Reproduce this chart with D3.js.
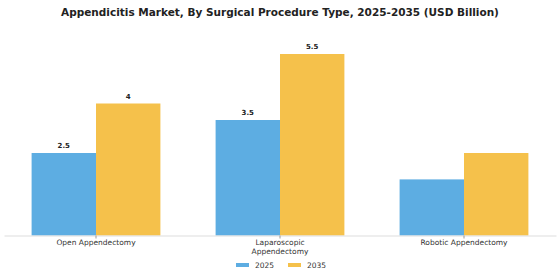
<!DOCTYPE html>
<html><head><meta charset="utf-8">
<script src="https://cdn.jsdelivr.net/npm/d3@7"></script>
<style>body{margin:0;background:#fff}svg{display:block}</style>
</head><body><svg id="c" width="560" height="280"></svg>
<script>
const categories = ["Open Appendectomy", "Laparoscopic Appendectomy", "Robotic Appendectomy"];
const categoryLines = [["Open Appendectomy"], ["Laparoscopic", "Appendectomy"], ["Robotic Appendectomy"]];
const seriesNames = ["2025", "2035"];
const values2025 = [2.5, 3.5, 1.7];
const values2035 = [4.0, 5.5, 2.5];
const labels2025 = ["2.5", "3.5", ""];
const labels2035 = ["4", "5.5", ""];
const colors = ["#5DADE2", "#F5C14B"];
const title = "Appendicitis Market, By Surgical Procedure Type, 2025-2035 (USD Billion)";

const svg = d3.select("#c");
const font = "DejaVu Sans, sans-serif";
const baseY = 235.5;
const x0 = d3.scaleBand().domain(categories).range([4, 556]).paddingInner(0.3).paddingOuter(0.15);
const x1 = d3.scaleBand().domain(seriesNames).range([0, x0.bandwidth()]);
const y = d3.scaleLinear().domain([0, 5.5]).range([baseY, 54]);

svg.append("text").attr("x", 280).attr("y", 16).attr("text-anchor", "middle")
  .attr("font-family", font).attr("font-weight", "bold").attr("font-size", 10.5).attr("fill", "#222").text(title);

const series = [values2025, values2035];
const labs = [labels2025, labels2035];
series.forEach((vals, si) => {
  const g = svg.append("g");
  g.selectAll("rect").data(categories).join("rect")
    .attr("x", (c) => x0(c) + x1(seriesNames[si]))
    .attr("y", (c, i) => y(vals[i]))
    .attr("width", x1.bandwidth())
    .attr("height", (c, i) => baseY - y(vals[i]))
    .attr("fill", colors[si]);
  g.selectAll("text").data(categories).join("text")
    .attr("x", (c) => x0(c) + x1(seriesNames[si]) + x1.bandwidth() / 2)
    .attr("y", (c, i) => y(vals[i]) - 5)
    .attr("text-anchor", "middle").attr("font-family", font).attr("font-weight", "bold")
    .attr("font-size", 7).attr("fill", "#222")
    .text((c, i) => labs[si][i]);
});

const ax = d3.axisBottom(x0).tickSize(3).tickSizeOuter(0).tickFormat("");
const axg = svg.append("g").attr("transform", `translate(0,${baseY})`).call(ax);
axg.select(".domain").attr("stroke", "#ddd");
axg.selectAll(".tick line").attr("stroke", "#999");

const lab = svg.append("g").selectAll("text").data(categories).join("text")
  .attr("x", (c) => x0(c) + x0.bandwidth() / 2)
  .attr("y", 245)
  .attr("text-anchor", "middle").attr("font-family", font).attr("font-size", 7.5).attr("fill", "#333");
lab.each(function (c, i) {
  d3.select(this).selectAll("tspan").data(categoryLines[i]).join("tspan")
    .attr("x", x0(c) + x0.bandwidth() / 2).attr("dy", (d, j) => j ? 9 : 0).text((d) => d);
});

const legendX = [236, 288];
seriesNames.forEach((s, i) => {
  svg.append("rect").attr("x", legendX[i]).attr("y", 263).attr("width", 13).attr("height", 4).attr("fill", colors[i]);
  svg.append("text").attr("x", legendX[i] + 19).attr("y", 268).attr("font-family", font)
    .attr("font-size", 7.5).attr("fill", "#333").text(s);
});
</script></body></html>
